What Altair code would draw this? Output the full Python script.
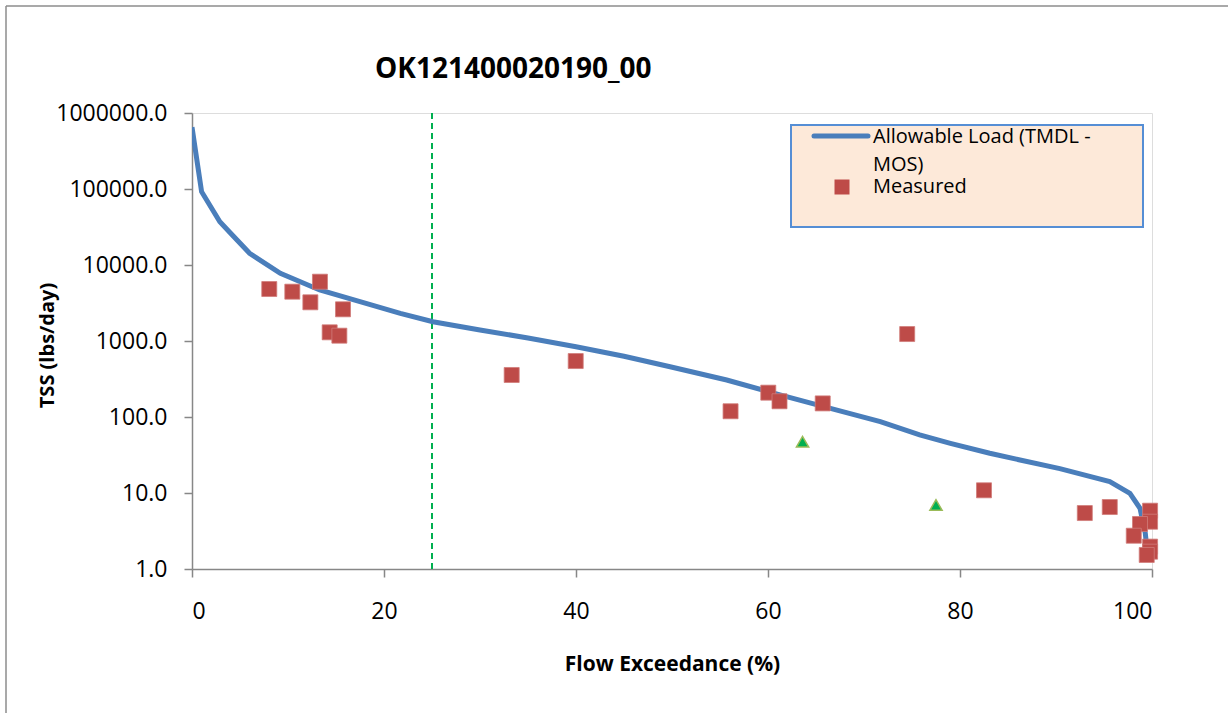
import altair as alt
import pandas as pd

# Allowable load curve (TMDL - MOS)
curve_x = [0, 1.0, 2.9, 4.0, 6.0, 9.2, 13.3, 17.5, 21.7, 25.1, 30, 35, 40, 45, 49.8,
           55.7, 61.25, 66.5, 71.7, 75.8, 79, 83.1, 86.25, 90.4, 95.6, 97.7, 98.75,
           99.3, 99.45, 99.7]
curve_y = [650000, 92000, 37000, 26300, 14250, 7780, 4690, 3290, 2312, 1795, 1396,
           1096, 841, 630, 458, 307, 195, 130, 87, 58, 45, 33.3, 27.2, 20.9, 14.1,
           9.9, 6.3, 2.96, 1.97, 1.5]

# Measured (squares)
meas_x = [8.05, 10.45, 13.33, 12.33, 15.73, 14.34, 15.35, 33.3, 39.97, 56.1, 60.03,
          61.2, 65.7, 74.5, 82.5, 93.0, 95.6, 99.8, 99.8, 98.75, 98.1, 99.8, 99.8, 99.45]
meas_y = [4830, 4456, 6030, 3230, 2612, 1301, 1175, 357, 545, 119, 209,
          161, 151, 1235, 10.85, 5.45, 6.54, 5.85, 4.19, 3.91, 2.74, 1.97, 1.69, 1.53]

# Other samples (triangles)
tri_x = [63.6, 77.5]
tri_y = [47.3, 6.95]

divider_x = [25]

x_ticks = [0, 20, 40, 60, 80, 100]
y_ticks = [1, 10, 100, 1000, 10000, 100000, 1000000]

TITLE = "OK121400020190_00"
FONT = "Open Sans"
BLUE = "#4A7EBB"
RED = "#BE4B48"
GREEN = "#00B050"

curve_df = pd.DataFrame({"x": curve_x, "y": curve_y})
meas_df = pd.DataFrame({"x": meas_x, "y": meas_y})
tri_df = pd.DataFrame({"x": tri_x, "y": tri_y})
div_df = pd.DataFrame({"x": divider_x})

xscale = alt.Scale(domain=[0, 100], nice=False, zero=False)
yscale = alt.Scale(type="log", domain=[1, 1000000], nice=False)

xaxis = alt.Axis(values=x_ticks, title="Flow Exceedance (%)", grid=False,
                 labelFont=FONT, labelFontSize=23, labelColor="black",
                 labelPadding=34, labelBaseline="middle",
                 tickSize=8, tickColor="#878787", domainColor="#878787",
                 domainWidth=1.5, tickWidth=1.5,
                 titleFont=FONT, titleFontSize=21, titleFontWeight="bold",
                 titleColor="black", titleY=95, titleBaseline="middle")
yaxis = alt.Axis(values=y_ticks, format=".1f", title="TSS (lbs/day)", grid=False,
                 labelFont=FONT, labelFontSize=23, labelColor="black",
                 labelPadding=17, tickSize=8, tickColor="#878787",
                 domainColor="#878787", domainWidth=1.5, tickWidth=1.5,
                 titleFont=FONT, titleFontSize=20, titleFontWeight="bold",
                 titleColor="black", titleX=-145, titleY=232,
                 titleBaseline="middle", titleAngle=-90)

line = alt.Chart(curve_df).mark_line(color=BLUE, strokeWidth=5, clip=True).encode(
    x=alt.X("x:Q", scale=xscale, axis=xaxis),
    y=alt.Y("y:Q", scale=yscale, axis=yaxis),
)

divider = alt.Chart(div_df).mark_rule(color=GREEN, strokeWidth=2,
                                      strokeDash=[6, 4]).encode(
    x=alt.X("x:Q", scale=xscale)
)

squares = alt.Chart(meas_df).mark_square(color=RED, size=225, opacity=1,
                                         stroke="#D07C7A", strokeWidth=0.8).encode(
    x=alt.X("x:Q", scale=xscale),
    y=alt.Y("y:Q", scale=yscale),
)

tris = alt.Chart(tri_df).mark_point(shape="triangle-up", filled=True, fill=GREEN,
                                    size=150, stroke="#9BBB59", strokeWidth=1.5,
                                    opacity=1).encode(
    x=alt.X("x:Q", scale=xscale),
    y=alt.Y("y:Q", scale=yscale),
)

one = pd.DataFrame({"a": [0]})

# Chart title as a text mark
title = alt.Chart(pd.DataFrame({"t": [TITLE]})).mark_text(
    font=FONT, fontSize=28, fontWeight="bold", color="black", align="left",
    baseline="alphabetic").encode(text="t:N", x=alt.value(183), y=alt.value(-35))

# Manual legend box
leg_box = alt.Chart(one).mark_rect(
    fill="#FDE9D9", stroke="#558ED5", strokeWidth=2).encode(
    x=alt.value(599), x2=alt.value(951), y=alt.value(12), y2=alt.value(114))
leg_line = alt.Chart(one).mark_rule(
    color=BLUE, strokeWidth=5, strokeCap="round").encode(
    x=alt.value(622), x2=alt.value(676), y=alt.value(23))
leg_sq = alt.Chart(one).mark_square(
    color=RED, size=225, opacity=1).encode(x=alt.value(650), y=alt.value(74))
leg_text1 = alt.Chart(pd.DataFrame({"t": ["Allowable Load (TMDL -\nMOS)"]})).mark_text(
    font=FONT, fontSize=20, color="black", align="left", baseline="top",
    lineBreak="\n", lineHeight=28).encode(
    text="t:N", x=alt.value(681), y=alt.value(14))
leg_text2 = alt.Chart(pd.DataFrame({"t": ["Measured"]})).mark_text(
    font=FONT, fontSize=20, color="black", align="left", baseline="middle").encode(
    text="t:N", x=alt.value(681), y=alt.value(74))

# Outer frame (top and left edges)
frame_top = alt.Chart(one).mark_rule(color="#8C8C8C", strokeWidth=1.5).encode(
    x=alt.value(-186), x2=alt.value(1050), y=alt.value(-107))
frame_left = alt.Chart(one).mark_rule(color="#8C8C8C", strokeWidth=1.5).encode(
    x=alt.value(-186), y=alt.value(-107), y2=alt.value(620))

chart = alt.layer(
    frame_top, frame_left, title, divider, line, squares, tris,
    leg_box, leg_line, leg_sq, leg_text1, leg_text2
).properties(
    width=960, height=456,
    autosize=alt.AutoSizeParams(type="none"),
    padding={"left": 192, "top": 113, "right": 76, "bottom": 144},
).configure_view(stroke=None).configure(background="white")

chart.save("out.html", embed_options={"renderer": "svg", "actions": False})
